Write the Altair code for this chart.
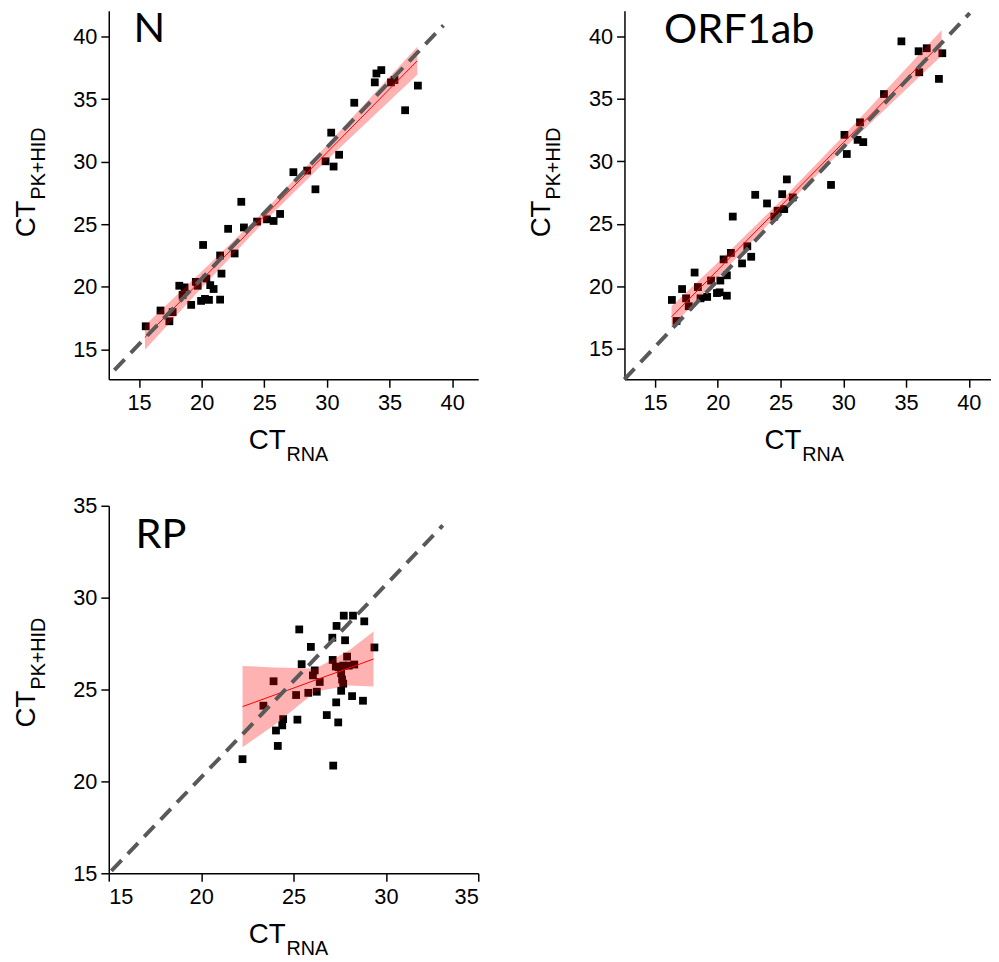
import altair as alt
import pandas as pd

# ---------------- N panel ----------------
n_x = [15.53, 16.71, 17.42, 17.68, 18.21, 18.63, 18.47, 19.16, 19.53, 19.68, 20.11, 19.95,
       20.26, 20.58, 20.37, 20.68, 20.95, 21.47, 21.58, 21.47, 22.11, 22.63, 23.16, 23.37,
       24.42, 25.21, 25.74, 26.26, 27.32, 28.42, 29.08, 29.89, 30.34, 30.53, 30.97, 32.18,
       33.82, 33.95, 34.34, 35.11, 35.39, 36.24, 37.26]
n_y = [16.84, 18.10, 17.24, 17.97, 20.08, 19.95, 19.34, 18.55, 20.39, 20.08, 23.34, 18.87,
       19.03, 18.95, 20.66, 20.13, 19.82, 22.50, 21.05, 18.97, 24.63, 22.66, 26.79, 24.74,
       25.21, 25.39, 25.26, 25.82, 29.16, 29.29, 27.79, 30.03, 32.32, 29.61, 30.55, 34.71,
       36.34, 37.05, 37.32, 36.34, 36.53, 34.11, 36.08]
n_band_x = [15.47, 20.0, 25.0, 30.0, 37.21]
n_fit = [15.95, 20.56, 25.64, 30.73, 38.06]
n_lo = [14.97, 19.91, 25.22, 30.13, 36.94]
n_hi = [16.93, 21.21, 26.06, 31.33, 39.18]
n_diag_x = [13.03, 39.3]
n_diag_y = [13.34, 40.9]

# ---------------- ORF1ab panel ----------------
o_x = [16.34, 16.71, 17.15, 17.47, 17.68, 18.15, 18.41, 18.62, 19.15, 19.46, 19.93, 20.20,
       20.14, 20.46, 20.72, 20.72, 21.04, 21.19, 21.93, 22.35, 22.66, 22.98, 23.92, 24.50,
       24.76, 25.13, 25.29, 25.50, 25.97, 29.02, 30.09, 30.28, 31.14, 31.33, 31.59, 33.24,
       34.63, 36.00, 36.05, 36.65, 37.62, 37.89]
o_y = [18.92, 17.24, 19.79, 19.05, 18.42, 21.11, 19.95, 19.05, 19.16, 20.47, 19.47, 20.47,
       19.53, 22.16, 20.89, 19.26, 22.68, 25.58, 21.84, 23.21, 22.37, 27.32, 26.63, 25.58,
       26.05, 27.37, 26.18, 28.55, 27.11, 28.11, 32.11, 30.58, 31.71, 33.11, 31.53, 35.37,
       39.58, 38.79, 37.11, 39.03, 36.58, 38.63]
o_band_x = [16.31, 20.0, 25.0, 30.0, 37.83]
o_fit = [17.57, 21.32, 26.41, 31.49, 39.45]
o_lo = [16.72, 20.72, 26.00, 30.97, 38.43]
o_hi = [18.42, 21.92, 26.82, 32.01, 40.47]
o_diag_x = [12.55, 40.08]
o_diag_y = [12.58, 41.84]

# ---------------- RP panel ----------------
r_x = [22.24, 23.37, 23.92, 24.05, 24.15, 24.39, 24.44, 25.14, 25.21, 25.31, 25.44, 25.80,
       25.94, 26.05, 26.15, 26.26, 26.42, 26.80, 27.10, 27.12, 27.15, 27.33, 27.31, 27.42,
       27.29, 27.58, 27.58, 27.63, 27.69, 27.72, 27.79, 27.69, 27.90, 28.17, 28.22, 28.29,
       28.76, 28.83, 29.38, 27.45, 27.99]
r_y = [21.21, 24.12, 25.45, 22.77, 21.93, 23.05, 23.39, 24.70, 23.36, 28.27, 26.38, 24.82,
       27.32, 25.77, 26.04, 24.88, 25.41, 23.61, 27.82, 26.61, 20.86, 28.46, 24.30, 23.21,
       26.25, 24.93, 25.89, 25.54, 25.32, 29.02, 27.68, 26.30, 26.79, 24.64, 29.02, 26.36,
       24.39, 28.71, 27.29, 26.21, 26.30]
r_band_x = [22.24, 24.0, 26.2, 28.0, 29.33]
r_fit = [24.07, 24.71, 25.52, 26.17, 26.66]
r_lo = [21.86, 23.10, 24.89, 25.22, 25.16]
r_hi = [26.28, 26.20, 26.15, 27.12, 28.16]
r_diag_x = [15.14, 33.08]
r_diag_y = [15.13, 33.93]

FONT = "Liberation Sans"


def panel(label, px, py, bx, bfit, blo, bhi, dx, dy, xdom, ydom, ticks, W, H,
          lab_x, lab_y, ytitle_y):
    pts = pd.DataFrame({"x": px, "y": py})
    band = pd.DataFrame({"x": bx, "fit": bfit, "lo": blo, "hi": bhi})
    diag = pd.DataFrame({"x": dx, "y": dy})
    one = pd.DataFrame({"k": [0]})

    xs = alt.Scale(domain=xdom, nice=False, zero=False)
    ys = alt.Scale(domain=ydom, nice=False, zero=False)
    xax = alt.Axis(values=ticks, title=None, grid=False, labelPadding=6)
    yax = alt.Axis(values=ticks, title=None, grid=False, labelPadding=4)

    X = lambda f: alt.X(f, type="quantitative", scale=xs, axis=xax)
    Y = lambda f: alt.Y(f, type="quantitative", scale=ys, axis=yax)

    points = alt.Chart(pts).mark_square(size=62, color="black", opacity=1).encode(
        x=X("x"), y=Y("y"))
    area = alt.Chart(band).mark_area(color="#ff0000", opacity=0.3).encode(
        x=X("x"), y=Y("lo"), y2="hi")
    fit = alt.Chart(band).mark_line(color="#ff0000", strokeWidth=1).encode(
        x=X("x"), y=Y("fit"))
    dline = alt.Chart(diag).mark_line(color="#595959", strokeWidth=4,
                                      strokeDash=[15, 9]).encode(x=X("x"), y=Y("y"))

    lab = alt.Chart(one).mark_text(text=label, font="Lato", fontSize=42, align="left",
                                   baseline="alphabetic", color="black").encode(
        x=alt.value(lab_x), y=alt.value(lab_y))

    xt1 = alt.Chart(one).mark_text(text="CT", font=FONT, fontSize=28, align="right",
                                   baseline="alphabetic", color="black").encode(
        x=alt.value(179), y=alt.value(H + 71))
    xt2 = alt.Chart(one).mark_text(text="RNA", font=FONT, fontSize=20, align="left",
                                   baseline="alphabetic", color="black").encode(
        x=alt.value(180), y=alt.value(H + 83))
    yt1 = alt.Chart(one).mark_text(text="CT", font=FONT, fontSize=28, align="right",
                                   baseline="alphabetic", angle=270, color="black").encode(
        x=alt.value(-75), y=alt.value(ytitle_y))
    yt2 = alt.Chart(one).mark_text(text="PK+HID", font=FONT, fontSize=20, align="left",
                                   baseline="alphabetic", angle=270, color="black").encode(
        x=alt.value(-65), y=alt.value(ytitle_y - 1))

    return alt.layer(points, area, fit, dline, lab, xt1, xt2, yt1, yt2).properties(
        width=W, height=H)


pN = panel("N", n_x, n_y, n_band_x, n_fit, n_lo, n_hi, n_diag_x, n_diag_y,
           [12.58, 42.08], [12.6, 42.06], [15, 20, 25, 30, 35, 40], 374, 373, 25, 32, 192)
pO = panel("ORF1ab", o_x, o_y, o_band_x, o_fit, o_lo, o_hi, o_diag_x, o_diag_y,
           [12.56, 41.77], [12.58, 42.02], [15, 20, 25, 30, 35, 40], 371, 373, 40, 33, 192)
pR = panel("RP", r_x, r_y, r_band_x, r_fit, r_lo, r_hi, r_diag_x, r_diag_y,
           [15, 35], [15, 35], [15, 20, 25, 30, 35], 374, 372, 27, 43, 187)

chart = alt.concat(
    pN, pO, pR, columns=2,
    spacing=alt.RowColnumber(row=128, column=148), bounds="flush",
).properties(
    padding={"left": 5, "top": -9, "right": 0, "bottom": 0},
    background="white",
).configure_view(stroke=None).configure_axis(
    domainColor="black", domainWidth=1.5, tickColor="black", tickWidth=1.5,
    tickSize=8, labelFont=FONT, labelFontSize=22, labelColor="black",
)

chart.save("out.html", embed_options={"renderer": "svg", "actions": False})
